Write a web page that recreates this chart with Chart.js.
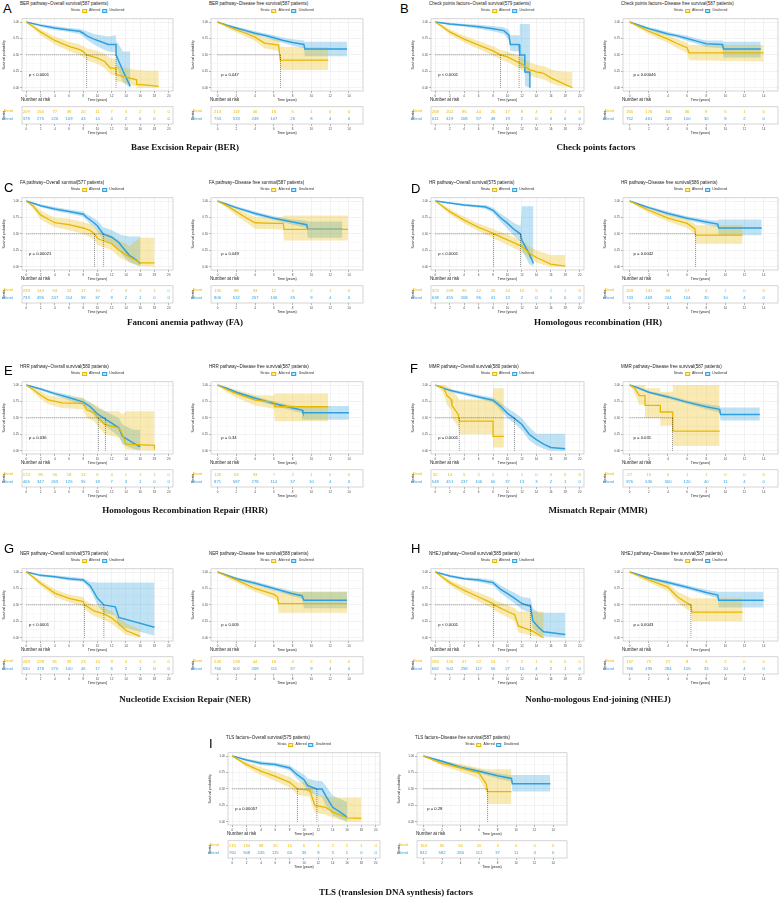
<!DOCTYPE html>
<html>
<head>
<meta charset="utf-8">
<script src="https://cdn.jsdelivr.net/npm/chart.js@4"></script>
<style>
body{margin:0;background:#fff;width:782px;height:898px;overflow:hidden;position:relative;font-family:"Liberation Sans",Arial,sans-serif}
.abs{position:absolute;white-space:nowrap;line-height:1}
.lbl{font-size:13px;color:#000}
.cap{font-family:"Liberation Serif","Times New Roman",serif;font-weight:bold;font-size:9px;color:#111;transform:translate(-50%,-50%)}
.ttl{font-size:4.5px;color:#222;transform:translateY(-50%)}
.nar{font-size:4.5px;color:#222;transform:translateY(-50%)}
.leg{font-size:3.5px;color:#333;transform:translate(-50%,-50%);display:flex;align-items:center;gap:2px}
.key{display:inline-block;width:5px;height:4px;border:0.5px solid;box-sizing:border-box;position:relative}
canvas{position:absolute}
</style>
</head>
<body>
<script>
// survival curves: [time, estimate, lower CI, upper CI]
const berOsAlt = [[0,1,1,1],[1,0.93,0.9,0.96],[2,0.85,0.8,0.89],[4,0.72,0.66,0.78],[6,0.63,0.56,0.7],[7.5,0.58,0.5,0.66],[8,0.55,0.47,0.63],[8.5,0.5,0.42,0.6],[10,0.45,0.36,0.56],[11,0.4,0.3,0.52],[11.8,0.3,0.2,0.45],[12.6,0.3,0.19,0.44],[12.6,0.2,0.1,0.35],[14,0.16,0.07,0.3],[15.5,0.12,0.02,0.27],[15.5,0.05,0,0.27],[17,0.04,0,0.26],[18.6,0.02,0,0.26]];
const berOsUna = [[0,1,1,1],[2,0.95,0.93,0.97],[4,0.91,0.88,0.94],[6,0.88,0.85,0.91],[7.5,0.86,0.82,0.9],[8,0.83,0.78,0.88],[8.5,0.79,0.73,0.86],[9.5,0.74,0.66,0.82],[10.5,0.7,0.6,0.8],[11.5,0.66,0.55,0.78],[12.6,0.66,0.54,0.8],[12.6,0.5,0.35,0.72],[13.2,0.35,0.18,0.62],[13.6,0.25,0.08,0.55],[14.6,0.02,0,0.55]];
const berDfsAlt = [[0,1,1,1],[1,0.94,0.91,0.97],[2,0.88,0.84,0.92],[3,0.83,0.78,0.88],[4,0.77,0.71,0.83],[5,0.68,0.6,0.76],[6.5,0.65,0.56,0.74],[6.7,0.42,0.27,0.62],[11.8,0.42,0.27,0.62]];
const berDfsUna = [[0,1,1,1],[1,0.95,0.93,0.97],[2,0.91,0.89,0.93],[3,0.87,0.84,0.9],[4,0.83,0.8,0.86],[5,0.8,0.77,0.83],[6,0.76,0.72,0.8],[7,0.72,0.68,0.76],[8,0.69,0.64,0.74],[9.2,0.66,0.6,0.72],[9.3,0.59,0.48,0.7],[13.8,0.59,0.48,0.7]];
const chkOsAlt = [[0,1,1,1],[1,0.93,0.9,0.96],[2,0.85,0.81,0.89],[4,0.74,0.69,0.79],[6,0.65,0.59,0.71],[8,0.56,0.49,0.63],[9,0.5,0.43,0.58],[10,0.47,0.39,0.55],[12,0.36,0.27,0.46],[13,0.28,0.19,0.39],[14,0.24,0.15,0.35],[15,0.22,0.13,0.33],[16,0.15,0.07,0.28],[17,0.1,0.03,0.25],[19,0,0,0.24]];
const chkOsUna = [[0,1,1,1],[2,0.97,0.95,0.99],[4,0.95,0.93,0.97],[6,0.93,0.9,0.96],[8,0.9,0.86,0.94],[9.5,0.87,0.82,0.92],[10.2,0.8,0.72,0.88],[10.4,0.66,0.56,0.8],[11.6,0.66,0.55,0.8],[11.7,0.5,0.3,0.97],[12.4,0.5,0.3,0.97],[12.4,0.24,0.03,0.97],[13.1,0.24,0,0.97],[13.1,0,0,0.97]];
const chkDfsAlt = [[0,1,1,1],[1,0.93,0.9,0.96],[2,0.86,0.82,0.9],[3,0.8,0.75,0.85],[4,0.74,0.68,0.8],[5,0.67,0.6,0.74],[6,0.61,0.53,0.69],[6.2,0.53,0.42,0.65],[14,0.53,0.4,0.65]];
const chkDfsUna = [[0,1,1,1],[1,0.95,0.93,0.97],[2,0.9,0.88,0.92],[3,0.86,0.83,0.89],[4,0.82,0.79,0.85],[5,0.79,0.76,0.82],[6,0.75,0.71,0.79],[7,0.71,0.67,0.75],[8,0.67,0.62,0.72],[9.7,0.66,0.6,0.72],[9.8,0.59,0.46,0.7],[13.7,0.59,0.46,0.7]];
const faOsAlt = [[0,1,1,1],[1,0.92,0.88,0.96],[2,0.79,0.72,0.86],[3,0.73,0.66,0.8],[4,0.67,0.6,0.75],[6,0.64,0.56,0.73],[8,0.59,0.5,0.68],[9,0.55,0.45,0.65],[9.6,0.5,0.4,0.6],[10,0.43,0.33,0.55],[12,0.35,0.25,0.48],[13,0.25,0.15,0.4],[14.5,0.15,0.06,0.32],[16,0.06,0.01,0.44],[18,0.06,0,0.44]];
const faOsUna = [[0,1,1,1],[2,0.93,0.91,0.95],[4,0.88,0.85,0.91],[6,0.84,0.81,0.87],[8,0.8,0.76,0.84],[8.5,0.75,0.7,0.8],[9.5,0.67,0.6,0.74],[10,0.62,0.54,0.7],[10.8,0.5,0.41,0.6],[12,0.45,0.35,0.56],[13,0.37,0.26,0.5],[13.5,0.3,0.18,0.48],[14.5,0.17,0.07,0.46],[15,0.14,0.05,0.46],[16,0.05,0,0.46]];
const faDfsAlt = [[0,1,1,1],[1,0.93,0.89,0.97],[2,0.84,0.78,0.9],[3,0.75,0.68,0.82],[4,0.67,0.58,0.76],[6,0.66,0.57,0.75],[7,0.66,0.56,0.76],[7.1,0.57,0.4,0.78],[13.9,0.57,0.4,0.78]];
const faDfsUna = [[0,1,1,1],[1,0.95,0.93,0.97],[2,0.9,0.88,0.92],[4,0.81,0.78,0.84],[6,0.74,0.71,0.77],[8,0.68,0.64,0.72],[9.5,0.64,0.59,0.7],[9.6,0.57,0.44,0.69],[13.3,0.57,0.44,0.69]];
const hrOsAlt = [[0,1,1,1],[1,0.92,0.89,0.95],[2,0.84,0.8,0.88],[4,0.71,0.66,0.76],[6,0.6,0.54,0.66],[8,0.51,0.44,0.58],[8.1,0.5,0.43,0.57],[10,0.41,0.33,0.49],[12,0.31,0.22,0.4],[13,0.21,0.13,0.31],[14,0.14,0.06,0.25],[16,0.04,0,0.18],[18,0.01,0,0.18]];
const hrOsUna = [[0,1,1,1],[2,0.97,0.96,0.98],[4,0.94,0.92,0.96],[6,0.92,0.9,0.94],[7,0.91,0.88,0.94],[8,0.86,0.82,0.9],[9,0.75,0.69,0.81],[10,0.66,0.58,0.74],[11,0.56,0.46,0.66],[11.8,0.5,0.38,0.62],[12,0.4,0.25,0.92],[13,0.2,0.04,0.92],[13.6,0.05,0,0.92]];
const hrDfsAlt = [[0,1,1,1],[1,0.93,0.9,0.96],[2,0.86,0.82,0.9],[4,0.74,0.69,0.79],[6,0.66,0.59,0.73],[6.8,0.58,0.5,0.66],[6.9,0.48,0.35,0.63],[11.8,0.48,0.35,0.63]];
const hrDfsUna = [[0,1,1,1],[1,0.95,0.93,0.97],[2,0.9,0.88,0.92],[4,0.81,0.78,0.84],[6,0.74,0.71,0.77],[8,0.68,0.64,0.72],[9.2,0.65,0.6,0.7],[9.3,0.59,0.48,0.72],[13.8,0.59,0.48,0.72]];
const hrrOsAlt = [[0,1,1,1],[1,0.93,0.89,0.97],[2,0.85,0.79,0.91],[3,0.78,0.71,0.85],[5,0.73,0.65,0.81],[8,0.72,0.63,0.81],[8.5,0.62,0.5,0.74],[9.5,0.58,0.45,0.71],[10,0.52,0.38,0.68],[11,0.4,0.25,0.6],[13,0.35,0.2,0.6],[13.5,0.25,0.12,0.55],[14,0.1,0.02,0.6],[18,0.08,0,0.6],[18,0.02,0,0.6]];
const hrrOsUna = [[0,1,1,1],[2,0.94,0.92,0.96],[4,0.87,0.84,0.9],[6,0.81,0.77,0.85],[8,0.74,0.69,0.79],[9,0.67,0.6,0.74],[10,0.56,0.47,0.65],[11.1,0.48,0.38,0.6],[12,0.42,0.3,0.55],[13,0.35,0.22,0.5],[13.5,0.22,0.1,0.4],[15,0.12,0.03,0.32],[16,0.06,0,0.32]];
const hrrDfsAlt = [[0,1,1,1],[1,0.93,0.89,0.97],[2,0.87,0.81,0.93],[4,0.77,0.69,0.85],[6,0.74,0.64,0.84],[6.1,0.67,0.45,0.87],[11.8,0.67,0.45,0.87]];
const hrrDfsUna = [[0,1,1,1],[1,0.95,0.93,0.97],[2,0.89,0.87,0.91],[4,0.8,0.77,0.83],[6,0.72,0.69,0.75],[8,0.65,0.61,0.69],[9,0.62,0.57,0.67],[9.1,0.58,0.47,0.68],[14,0.58,0.47,0.68]];
const mmrOsAlt = [[0,1,1,1],[1,0.97,0.9,1],[1.4,0.9,0.78,1],[1.6,0.84,0.7,0.98],[2.2,0.78,0.62,0.95],[2.3,0.69,0.5,0.93],[3.2,0.55,0.36,0.8],[3.3,0.45,0.25,0.78],[8,0.45,0.25,0.78],[8,0.22,0.05,0.95],[9.5,0.22,0.05,0.95]];
const mmrOsUna = [[0,1,1,1],[2,0.92,0.9,0.94],[4,0.87,0.84,0.9],[6,0.82,0.79,0.85],[8,0.77,0.73,0.81],[9,0.68,0.62,0.74],[10,0.57,0.5,0.65],[11,0.49,0.41,0.58],[12,0.4,0.31,0.5],[13,0.25,0.16,0.36],[14,0.17,0.08,0.26],[15,0.1,0.03,0.26],[16,0.05,0,0.26],[18,0.03,0,0.26]];
const mmrDfsAlt = [[0,1,1,1],[0.5,0.96,0.88,1],[1,0.84,0.7,1],[1.6,0.84,0.7,1],[1.6,0.69,0.5,0.95],[3.2,0.69,0.5,0.95],[3.2,0.59,0.38,0.9],[4.5,0.59,0.38,0.9],[4.5,0.3,0.07,1],[9.4,0.3,0.07,1]];
const mmrDfsUna = [[0,1,1,1],[1,0.95,0.93,0.97],[2,0.89,0.87,0.91],[4,0.82,0.79,0.85],[6,0.74,0.71,0.77],[8,0.67,0.63,0.71],[9.4,0.63,0.58,0.68],[9.5,0.55,0.46,0.66],[13.6,0.55,0.46,0.66]];
const nerOsAlt = [[0,1,1,1],[1,0.92,0.89,0.95],[2,0.83,0.79,0.87],[4,0.68,0.62,0.74],[6,0.6,0.54,0.66],[8,0.55,0.48,0.62],[8.2,0.5,0.43,0.57],[9.5,0.41,0.33,0.5],[11,0.36,0.27,0.46],[12,0.3,0.21,0.4],[13,0.21,0.13,0.31],[14,0.11,0.04,0.22],[16,0.02,0,0.12]];
const nerOsUna = [[0,1,1,1],[2,0.95,0.93,0.97],[4,0.93,0.91,0.95],[6,0.9,0.87,0.93],[8,0.88,0.85,0.91],[9,0.79,0.73,0.85],[10,0.6,0.5,0.84],[10.9,0.5,0.38,0.84],[12.5,0.47,0.34,0.84],[13,0.31,0.18,0.84],[18,0.16,0.03,0.84]];
const nerDfsAlt = [[0,1,1,1],[1,0.94,0.91,0.97],[2,0.88,0.84,0.92],[4,0.75,0.7,0.8],[6,0.66,0.59,0.73],[6.4,0.62,0.55,0.7],[6.5,0.52,0.38,0.7],[13.8,0.52,0.38,0.7]];
const nerDfsUna = [[0,1,1,1],[2,0.9,0.88,0.92],[4,0.83,0.8,0.86],[6,0.75,0.72,0.78],[8,0.67,0.63,0.71],[9,0.64,0.59,0.69],[9.2,0.57,0.45,0.7],[13.8,0.57,0.45,0.7]];
const nhejOsAlt = [[0,1,1,1],[1,0.92,0.89,0.95],[2,0.84,0.8,0.88],[4,0.72,0.66,0.78],[6,0.62,0.55,0.69],[8,0.52,0.44,0.6],[8.1,0.5,0.42,0.58],[10,0.4,0.31,0.5],[11,0.35,0.25,0.45],[11.5,0.18,0.08,0.4],[13.5,0.1,0.03,0.4],[15,0,0,0.4]];
const nhejOsUna = [[0,1,1,1],[2,0.94,0.92,0.96],[4,0.9,0.88,0.92],[6,0.88,0.85,0.91],[8,0.84,0.8,0.88],[9,0.74,0.68,0.8],[10,0.67,0.6,0.74],[11,0.6,0.52,0.68],[12,0.52,0.43,0.62],[13.2,0.48,0.38,0.6],[13.5,0.26,0.14,0.45],[14.3,0.16,0.06,0.38],[15,0.09,0.02,0.38],[18,0.05,0,0.38]];
const nhejDfsAlt = [[0,1,1,1],[1,0.94,0.91,0.97],[2,0.88,0.84,0.92],[4,0.77,0.71,0.83],[5,0.62,0.54,0.7],[6,0.53,0.43,0.63],[6.4,0.5,0.4,0.6],[6.5,0.39,0.25,0.6],[11.8,0.39,0.25,0.6]];
const nhejDfsUna = [[0,1,1,1],[2,0.91,0.89,0.93],[4,0.84,0.81,0.87],[6,0.77,0.74,0.8],[8,0.69,0.65,0.73],[9.2,0.65,0.6,0.7],[9.3,0.57,0.46,0.7],[14,0.57,0.46,0.7]];
const tlsOsAlt = [[0,1,1,1],[2,0.87,0.83,0.91],[4,0.77,0.71,0.83],[6,0.69,0.62,0.76],[8,0.6,0.52,0.68],[9.1,0.5,0.41,0.6],[10.8,0.48,0.38,0.6],[11,0.42,0.3,0.55],[11.5,0.25,0.14,0.42],[13,0.22,0.11,0.38],[14,0.15,0.06,0.37],[16,0.06,0,0.37],[18,0.05,0,0.37]];
const tlsOsUna = [[0,1,1,1],[2,0.94,0.92,0.96],[4,0.89,0.86,0.92],[6,0.87,0.84,0.9],[8,0.82,0.78,0.86],[9,0.72,0.66,0.78],[10,0.64,0.56,0.72],[10.5,0.55,0.46,0.66],[11.8,0.5,0.4,0.62],[12.5,0.5,0.38,0.62],[13,0.4,0.26,0.55],[14,0.22,0.1,0.4],[15,0.15,0.05,0.35],[16,0.07,0,0.3]];
const tlsDfsAlt = [[0,1,1,1],[2,0.89,0.85,0.93],[4,0.82,0.76,0.88],[6,0.74,0.66,0.82],[6.8,0.57,0.45,0.8],[6.9,0.46,0.27,0.8],[9.5,0.46,0.27,0.8]];
const tlsDfsUna = [[0,1,1,1],[2,0.92,0.9,0.94],[4,0.83,0.8,0.86],[6,0.77,0.74,0.8],[8,0.7,0.66,0.74],[9.5,0.66,0.61,0.71],[9.6,0.58,0.46,0.71],[13.7,0.58,0.46,0.71]];

// number at risk
const osTimes = [0,2,4,6,8,10,12,14,16,18,20];
const dfsTimes = [0,2,4,6,8,10,12,14];
const berOsRiskAlt = [209,150,77,38,20,11,7,3,2,1,0];
const berOsRiskUna = [378,275,226,109,43,14,4,2,0,0,0];
const berDfsRiskAlt = [213,119,46,16,5,1,0,0];
const berDfsRiskUna = [753,533,249,107,26,8,4,0];
const chkOsRiskAlt = [268,202,95,44,26,17,8,4,2,1,0];
const chkOsRiskUna = [611,419,208,97,48,19,2,0,0,0,0];
const chkDfsRiskAlt = [265,176,84,36,9,5,1,0];
const chkDfsRiskUna = [752,461,249,100,30,8,2,0];
const faOsRiskAlt = [239,143,53,24,17,10,7,3,1,1,0];
const faOsRiskUna = [733,495,247,114,59,37,9,2,1,0,0];
const faDfsRiskAlt = [135,88,33,12,4,2,1,0];
const faDfsRiskUna = [806,532,267,106,35,9,4,0];
const hrOsRiskAlt = [323,239,95,42,26,14,10,5,2,1,0];
const hrOsRiskUna = [638,455,208,96,41,13,2,0,0,0,0];
const hrDfsRiskAlt = [203,141,66,17,4,1,0,0];
const hrDfsRiskUna = [743,469,244,104,30,10,4,0];
const hrrOsRiskAlt = [174,95,55,18,13,6,4,1,1,1,0];
const hrrOsRiskUna = [406,347,265,126,55,18,7,3,1,0,0];
const hrrDfsRiskAlt = [126,63,33,7,2,1,0,0];
const hrrDfsRiskUna = [871,587,278,114,37,10,4,0];
const mmrOsRiskAlt = [32,14,5,2,2,1,1,0,0,0,0];
const mmrOsRiskUna = [548,451,237,106,60,37,13,3,2,1,0];
const mmrDfsRiskAlt = [27,15,5,1,1,0,0,0];
const mmrDfsRiskUna = [876,630,300,120,40,11,4,0];
const nerOsRiskAlt = [249,228,81,39,23,14,9,4,1,0,0];
const nerOsRiskUna = [630,478,270,100,46,17,6,2,1,0,0];
const nerDfsRiskAlt = [249,128,44,16,4,2,1,0];
const nerDfsRiskUna = [766,502,268,111,37,9,4,0];
const nhejOsRiskAlt = [183,126,47,22,14,7,2,1,0,0,0];
const nhejOsRiskUna = [682,502,258,117,50,27,10,4,2,1,0];
const nhejDfsRiskAlt = [137,75,27,8,3,2,0,0];
const nhejDfsRiskUna = [766,495,284,105,33,10,4,0];
const tlsOsRiskAlt = [215,134,58,20,10,6,4,2,1,1,0];
const tlsOsRiskUna = [760,508,245,115,60,35,8,3,1,0,0];
const tlsDfsRiskAlt = [164,90,56,20,3,0,0,0];
const tlsDfsRiskUna = [842,582,280,111,37,11,4,0];

const YEL = '#E7B800', BLU = '#2E9FDF';
const YEL_F = 'rgba(231,184,0,0.3)', BLU_F = 'rgba(46,159,223,0.3)';
const FONT = '"Liberation Sans", Arial, sans-serif';
Chart.defaults.font.family = FONT;

// layout of each survival plot (plot-panel box)
const rowTop = [17, 196, 380, 567, 751];
const plots = [
  {x:22, y:rowTop[0], w:151, os:true, title:'BER pathway~Overall survival(587 patients)', alt:berOsAlt, una:berOsUna, med:[8.5,12.6], p:'p < 0.0001', rA:berOsRiskAlt, rU:berOsRiskUna},
  {x:211, y:rowTop[0], w:152, os:false, title:'BER pathway~Disease free survival(587 patients)', alt:berDfsAlt, una:berDfsUna, med:[6.7], p:'p = 0.047', rA:berDfsRiskAlt, rU:berDfsRiskUna},
  {x:431, y:rowTop[0], w:153, os:true, title:'Check points factors~Overall survival(579 patients)', alt:chkOsAlt, una:chkOsUna, med:[9,11.6], p:'p < 0.0001', rA:chkOsRiskAlt, rU:chkOsRiskUna},
  {x:623, y:rowTop[0], w:155, os:false, title:'Check points factors~Disease free survival(587 patients)', alt:chkDfsAlt, una:chkDfsUna, med:[], p:'p = 0.00046', rA:chkDfsRiskAlt, rU:chkDfsRiskUna},
  {x:22, y:rowTop[1], w:151, os:true, title:'FA pathway~Overall survival(577 patients)', alt:faOsAlt, una:faOsUna, med:[9.6,10.8], p:'p = 0.00021', rA:faOsRiskAlt, rU:faOsRiskUna},
  {x:211, y:rowTop[1], w:152, os:false, title:'FA pathway~Disease free survival(587 patients)', alt:faDfsAlt, una:faDfsUna, med:[], p:'p = 0.049', rA:faDfsRiskAlt, rU:faDfsRiskUna},
  {x:431, y:rowTop[1], w:153, os:true, title:'HR pathway~Overall survival(575 patients)', alt:hrOsAlt, una:hrOsUna, med:[8.1,11.8], p:'p < 0.0001', rA:hrOsRiskAlt, rU:hrOsRiskUna},
  {x:623, y:rowTop[1], w:155, os:false, title:'HR pathway~Disease free survival(586 patients)', alt:hrDfsAlt, una:hrDfsUna, med:[6.9], p:'p = 0.0042', rA:hrDfsRiskAlt, rU:hrDfsRiskUna},
  {x:22, y:rowTop[2], w:151, os:true, title:'HRR pathway~Overall survival(580 patients)', alt:hrrOsAlt, una:hrrOsUna, med:[10.1,11.1], p:'p = 0.036', rA:hrrOsRiskAlt, rU:hrrOsRiskUna},
  {x:211, y:rowTop[2], w:152, os:false, title:'HRR pathway~Disease free survival(587 patients)', alt:hrrDfsAlt, una:hrrDfsUna, med:[], p:'p = 0.34', rA:hrrDfsRiskAlt, rU:hrrDfsRiskUna},
  {x:431, y:rowTop[2], w:153, os:true, title:'MMR pathway~Overall survival(580 patients)', alt:mmrOsAlt, una:mmrOsUna, med:[3.3,11], p:'p = 0.0001', rA:mmrOsRiskAlt, rU:mmrOsRiskUna},
  {x:623, y:rowTop[2], w:155, os:false, title:'MMR pathway~Disease free survival(587 patients)', alt:mmrDfsAlt, una:mmrDfsUna, med:[4.5], p:'p = 0.031', rA:mmrDfsRiskAlt, rU:mmrDfsRiskUna},
  {x:22, y:rowTop[3], w:151, os:true, title:'NER pathway~Overall survival(579 patients)', alt:nerOsAlt, una:nerOsUna, med:[8.2,10.9], p:'p < 0.0001', rA:nerOsRiskAlt, rU:nerOsRiskUna},
  {x:211, y:rowTop[3], w:152, os:false, title:'NER pathway~Disease free survival(588 patients)', alt:nerDfsAlt, una:nerDfsUna, med:[], p:'p = 0.005', rA:nerDfsRiskAlt, rU:nerDfsRiskUna},
  {x:431, y:rowTop[3], w:153, os:true, title:'NHEJ pathway~Overall survival(585 patients)', alt:nhejOsAlt, una:nhejOsUna, med:[8.1,13.2], p:'p < 0.0001', rA:nhejOsRiskAlt, rU:nhejOsRiskUna},
  {x:623, y:rowTop[3], w:155, os:false, title:'NHEJ pathway~Disease free survival(587 patients)', alt:nhejDfsAlt, una:nhejDfsUna, med:[6.4], p:'p = 0.0043', rA:nhejDfsRiskAlt, rU:nhejDfsRiskUna},
  {x:228, y:rowTop[4], w:152, os:true, title:'TLS factors~Overall survival(575 patients)', alt:tlsOsAlt, una:tlsOsUna, med:[9.1,11.8], p:'p = 0.00057', rA:tlsOsRiskAlt, rU:tlsOsRiskUna},
  {x:417, y:rowTop[4], w:150, os:false, title:'TLS factors~Disease free survival(587 patients)', alt:tlsDfsAlt, una:tlsDfsUna, med:[6.9], p:'p = 0.28', rA:tlsDfsRiskAlt, rU:tlsDfsRiskUna}
];

const letters = [['A',3,2],['B',400,2],['C',4,181],['D',411,182],['E',4,364],['F',410,362],['G',4,542],['H',411,542],['I',209,737]];
const captions = [
  ['Base Excision Repair (BER)',185,147],['Check points factors',596,147],
  ['Fanconi anemia pathway (FA)',185,322],['Homologous recombination (HR)',598,322],
  ['Homologous Recombination Repair (HRR)',185,510],['Mismatch Repair (MMR)',598,510],
  ['Nucleotide Excision Repair (NER)',185,699],['Nonho-mologous End-joining (NHEJ)',598,699],
  ['TLS (translesion DNA synthesis) factors',396,892]
];

function div(cls, text, x, y, style) {
  const d = document.createElement('div');
  d.className = 'abs ' + cls;
  d.textContent = text;
  d.style.left = x + 'px'; d.style.top = y + 'px';
  if (style) Object.assign(d.style, style);
  document.body.appendChild(d);
  return d;
}

function pts(rows, k) { return rows.map(r => ({x: r[0], y: r[k]})); }

const framePlugin = {
  id: 'frame',
  afterDraw(chart) {
    const a = chart.chartArea, ctx = chart.ctx;
    ctx.save(); ctx.strokeStyle = '#b8b8b8'; ctx.lineWidth = 0.6;
    ctx.strokeRect(a.left, a.top, a.right - a.left, a.bottom - a.top);
    ctx.restore();
  }
};
const pvalPlugin = {
  id: 'pval',
  afterDatasetsDraw(chart, args, opts) {
    if (!opts.text) return;
    const {ctx, scales} = chart;
    ctx.save(); ctx.font = '4.2px ' + FONT; ctx.fillStyle = '#111'; ctx.textBaseline = 'middle';
    ctx.fillText(opts.text, scales.x.getPixelForValue(0.4), scales.y.getPixelForValue(0.2));
    ctx.restore();
  }
};
const countPlugin = {
  id: 'counts',
  afterDatasetsDraw(chart) {
    const ctx = chart.ctx;
    ctx.save(); ctx.font = '4.2px ' + FONT; ctx.textAlign = 'center'; ctx.textBaseline = 'middle';
    chart.data.datasets.forEach((ds, i) => {
      ctx.fillStyle = ds.textColor;
      chart.getDatasetMeta(i).data.forEach((el, j) => ctx.fillText(String(ds.counts[j]), el.x, el.y));
    });
    ctx.restore();
  }
};

const L = 20, BX = 11, H = 74;

function xScale(os, labelled) {
  const tMax = os ? 20 : 14;
  return {
    type: 'linear', min: os ? -0.6 : -0.7, max: os ? 20.6 : 15.5,
    afterBuildTicks: s => { const t = []; for (let v = 0; v <= tMax; v += labelled ? 1 : 2) t.push({value: v}); s.ticks = t; },
    afterFit: s => { s.height = BX; },
    ticks: {font: {size: 3}, color: '#4d4d4d', padding: 1, maxRotation: 0, autoSkip: false,
            callback: v => v % 2 === 0 ? String(v) : ''},
    grid: labelled ? {
      color: c => (c.tick && c.tick.value % 2) ? '#f3f3f3' : '#e4e4e4', lineWidth: 0.5, tickLength: 2,
      tickColor: c => (c.tick && c.tick.value % 2) ? 'rgba(0,0,0,0)' : '#666', tickWidth: 0.5
    } : {drawOnChartArea: false, tickLength: 2, tickColor: '#666', tickWidth: 0.5},
    border: {display: false},
    title: {display: true, text: 'Time (years)', font: {size: 3.5}, color: '#222', padding: {top: 0, bottom: 0}}
  };
}

function kmChart(p) {
  const cv = document.createElement('canvas');
  cv.width = p.w + L + 3; cv.height = H + 1 + BX;
  cv.style.left = (p.x - L) + 'px'; cv.style.top = (p.y - 1) + 'px';
  document.body.appendChild(cv);

  const datasets = [];
  [[p.alt, YEL, YEL_F], [p.una, BLU, BLU_F]].forEach(([rows, col, fillCol]) => {
    datasets.push({data: pts(rows, 3), borderWidth: 0, pointRadius: 0, fill: '+1', backgroundColor: fillCol, order: 3});
    datasets.push({data: pts(rows, 2), borderWidth: 0, pointRadius: 0, fill: false, order: 3});
  });
  datasets.push({data: pts(p.alt, 1), borderColor: YEL, borderWidth: 1.3, pointRadius: 0, fill: false, order: 1});
  datasets.push({data: pts(p.una, 1), borderColor: BLU, borderWidth: 1.5, pointRadius: 0, fill: false, order: 1});
  if (p.med.length) {
    const mMax = Math.max(...p.med);
    datasets.push({data: [{x: 0, y: 0.5}, {x: mMax, y: 0.5}], borderColor: '#222', borderWidth: 0.5, borderDash: [1, 1], pointRadius: 0, fill: false, order: 0});
    p.med.forEach(m => datasets.push({data: [{x: m, y: 0.5}, {x: m, y: 0}], borderColor: '#222', borderWidth: 0.5, borderDash: [1, 1], pointRadius: 0, fill: false, order: 0}));
  }

  new Chart(cv, {
    type: 'line',
    data: {datasets},
    plugins: [framePlugin, pvalPlugin],
    options: {
      animation: false, responsive: false, events: [],
      layout: {padding: {top: 1, right: 3, left: 0, bottom: 0}},
      plugins: {legend: {display: false}, tooltip: {enabled: false}, pval: {text: p.p}},
      scales: {
        x: xScale(p.os, true),
        y: {
          min: -0.05, max: 1.05,
          afterBuildTicks: s => { s.ticks = [0,0.125,0.25,0.375,0.5,0.625,0.75,0.875,1].map(v => ({value: v})); },
          afterFit: s => { s.width = L; },
          ticks: {font: {size: 3}, color: '#4d4d4d', padding: 1, callback: v => (v * 4) % 1 === 0 ? v.toFixed(2) : ''},
          grid: {
            color: c => (c.tick && (c.tick.value * 4) % 1) ? '#f3f3f3' : '#e4e4e4', lineWidth: 0.5, tickLength: 2,
            tickColor: c => (c.tick && (c.tick.value * 4) % 1) ? 'rgba(0,0,0,0)' : '#666', tickWidth: 0.5
          },
          border: {display: false},
          title: {display: true, text: 'Survival probability', font: {size: 3.5}, color: '#222', padding: {top: 0, bottom: 1}}
        }
      }
    }
  });

  // title and legend
  div('ttl', p.title, p.x - 2, p.y - 13);
  const leg = div('leg', '', p.x + p.w / 2, p.y - 6);
  leg.innerHTML = '<span>Strata</span>' +
    '<span class="key" style="background:' + YEL_F + ';border-color:' + YEL + '"></span><span>Altered</span>' +
    '<span class="key" style="background:' + BLU_F + ';border-color:' + BLU + '"></span><span>Unaltered</span>';
}

function riskChart(p) {
  const ty = p.y + 88, th = 19;
  div('nar', 'Number at risk', p.x - 1, ty - 5);
  const cv = document.createElement('canvas');
  cv.width = p.w + L + 3; cv.height = th + 1 + BX;
  cv.style.left = (p.x - L) + 'px'; cv.style.top = (ty - 1) + 'px';
  document.body.appendChild(cv);
  const times = p.os ? osTimes : dfsTimes;
  new Chart(cv, {
    type: 'line',
    data: {datasets: [
      {data: times.map(t => ({x: t, y: 2})), counts: p.rA, textColor: YEL, showLine: false, pointRadius: 0},
      {data: times.map(t => ({x: t, y: 1})), counts: p.rU, textColor: BLU, showLine: false, pointRadius: 0}
    ]},
    plugins: [framePlugin, countPlugin],
    options: {
      animation: false, responsive: false, events: [],
      layout: {padding: {top: 1, right: 3, left: 0, bottom: 0}},
      plugins: {legend: {display: false}, tooltip: {enabled: false}},
      scales: {
        x: xScale(p.os, false),
        y: {
          min: 0.4, max: 2.6,
          afterBuildTicks: s => { s.ticks = [{value: 1}, {value: 2}]; },
          afterFit: s => { s.width = L; },
          ticks: {font: {size: 3}, padding: 1, color: c => c.tick && c.tick.value === 2 ? YEL : BLU,
                  callback: v => v === 2 ? '\u2014 Altered' : '\u2014 Unaltered'},
          grid: {display: false},
          border: {display: false},
          title: {display: true, text: 'Strata', font: {size: 3.5}, color: '#222', padding: {top: 0, bottom: 1}}
        }
      }
    }
  });
}

plots.forEach(p => { kmChart(p); riskChart(p); });
letters.forEach(([t, x, y]) => div('lbl', t, x, y));
captions.forEach(([t, x, y]) => div('cap', t, x, y));
</script>
</body>
</html>
